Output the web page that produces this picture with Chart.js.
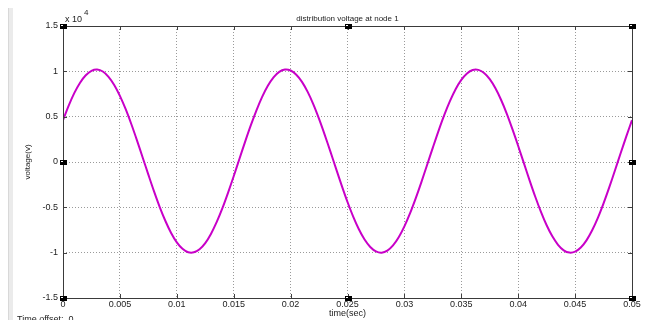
<!DOCTYPE html>
<html>
<head>
<meta charset="utf-8">
<script src="https://cdn.jsdelivr.net/npm/chart.js@4.4.1/dist/chart.umd.min.js"></script>
<style>
  html,body{margin:0;padding:0;background:#fff;width:647px;height:320px;overflow:hidden;}
  #wrap{position:relative;width:647px;height:320px;}
  #strip{position:absolute;left:8px;top:8px;width:4px;height:320px;background:#ebebeb;border-left:1px solid #d8d8d8;}
  #offset{position:absolute;left:17px;top:314px;font:9px "Liberation Sans",Arial,sans-serif;color:#222;white-space:nowrap;}
</style>
</head>
<body>
<div id="wrap">
  <div id="strip"></div>
  <canvas id="c" width="647" height="320"></canvas>
  <div id="offset">Time offset:&nbsp;&nbsp;0</div>
</div>
<script>
// time samples (sec)
const times = [0,0.0005,0.001,0.0015,0.002,0.0025,0.003,0.0035,0.004,0.0045,0.005,0.0055,0.006,0.0065,0.007,0.0075,0.008,0.0085,0.009,0.0095,
0.01,0.0105,0.011,0.0115,0.012,0.0125,0.013,0.0135,0.014,0.0145,0.015,0.0155,0.016,0.0165,0.017,0.0175,0.018,0.0185,0.019,0.0195,
0.02,0.0205,0.021,0.0215,0.022,0.0225,0.023,0.0235,0.024,0.0245,0.025,0.0255,0.026,0.0265,0.027,0.0275,0.028,0.0285,0.029,0.0295,
0.03,0.0305,0.031,0.0315,0.032,0.0325,0.033,0.0335,0.034,0.0345,0.035,0.0355,0.036,0.0365,0.037,0.0375,0.038,0.0385,0.039,0.0395,
0.04,0.0405,0.041,0.0415,0.042,0.0425,0.043,0.0435,0.044,0.0445,0.045,0.0455,0.046,0.0465,0.047,0.0475,0.048,0.0485,0.049,0.0495,0.05];
// voltage at node 1 (V)
const voltage = [4610,6220,7620,8750,9570,10060,10200,9980,9400,8500,7300,5850,4190,2390,500,-1390,-3240,-4970,-6510,-7830,
-8860,-9570,-9950,-9960,-9620,-8940,-7930,-6640,-5120,-3400,-1570,330,2220,4030,5700,7180,8400,9330,9940,10190,
10090,9630,8840,7730,6360,4760,3000,1140,-760,-2630,-4410,-6020,-7420,-8550,-9370,-9860,-10000,-9780,-9200,-8300,
-7100,-5650,-3990,-2190,-300,1590,3440,5170,6710,8030,9060,9770,10150,10160,9820,9140,8130,6840,5320,3600,
1770,-130,-2020,-3830,-5500,-6980,-8200,-9130,-9740,-9990,-9890,-9430,-8640,-7530,-6160,-4560,-2800,-940,960,2830,4610];
const xTickLabels = ['0','0.005','0.01','0.015','0.02','0.025','0.03','0.035','0.04','0.045','0.05'];
const yTickLabels = ['-1.5','-1','-0.5','0','0.5','1','1.5'];
const titleText = 'distribution voltage at node 1';
const xTitle = 'time(sec)';
const yTitle = 'voltage(v)';

const FONT = '"Liberation Sans", Arial, sans-serif';
const points = times.map((t,i)=>({x:t,y:voltage[i]}));

const frame = {
  id:'frame',
  afterDraw(chart){
    const {ctx, chartArea:a, scales:{x,y}} = chart;
    ctx.save();
    ctx.strokeStyle = '#404040'; ctx.lineWidth = 1;
    x.ticks.forEach(t=>{
      const px = Math.round(x.getPixelForValue(t.value))+0.5;
      ctx.beginPath();
      ctx.moveTo(px,a.bottom); ctx.lineTo(px,a.bottom-4);
      ctx.moveTo(px,a.top); ctx.lineTo(px,a.top+4);
      ctx.stroke();
    });
    y.ticks.forEach(t=>{
      const py = Math.round(y.getPixelForValue(t.value))+0.5;
      ctx.beginPath();
      ctx.moveTo(a.left,py); ctx.lineTo(a.left+4,py);
      ctx.moveTo(a.right,py); ctx.lineTo(a.right-4,py);
      ctx.stroke();
    });
    ctx.strokeStyle = '#3a3a3a';
    ctx.strokeRect(Math.round(a.left)+0.5, Math.round(a.top)+0.5, Math.round(a.right-a.left), Math.round(a.bottom-a.top));
    ctx.fillStyle = '#222';
    ctx.font = '9px ' + FONT;
    ctx.textBaseline = 'alphabetic';
    ctx.textAlign = 'left';
    ctx.fillText('x 10', a.left+2, a.top-4);
    ctx.font = '8px ' + FONT;
    ctx.fillText('4', a.left+21, a.top-11);
    ctx.fillStyle = '#000';
    const xm = x.getPixelForValue(0.025), ym = y.getPixelForValue(0);
    [[a.left,a.top],[xm,a.top],[a.right,a.top],[a.left,ym],[a.right,ym],[a.left,a.bottom],[xm,a.bottom],[a.right,a.bottom]]
      .forEach(([hx,hy])=>{
        ctx.fillRect(Math.round(hx)-3, Math.round(hy)-2, 7, 5);
        ctx.fillStyle='#fff'; ctx.fillRect(Math.round(hx)-2, Math.round(hy)-1, 2, 1); ctx.fillStyle='#000';
      });
    ctx.restore();
  }
};

new Chart(document.getElementById('c'), {
  type:'line',
  data:{datasets:[{
    data: points,
    borderColor:'#c800c8',
    borderWidth:2,
    pointRadius:0,
    tension:0.3,
    fill:false
  }]},
  options:{
    responsive:false,
    animation:false,
    events:[],
    layout:{padding:{left:0,right:15,top:0,bottom:0}},
    plugins:{
      legend:{display:false},
      tooltip:{enabled:false},
      title:{display:true,text:titleText,fullSize:false,color:'#222',
        font:{family:FONT,size:8,weight:'normal'},padding:{top:14,bottom:2.4}}
    },
    scales:{
      x:{
        type:'linear',min:0,max:0.05,
        afterFit(s){ s.height = 22; },
        grid:{color:'#9a9a9a',lineWidth:1,drawTicks:false},
        border:{display:false,dash:[1,2]},
        ticks:{stepSize:0.005,padding:1,color:'#222',font:{family:FONT,size:9},maxRotation:0,autoSkip:false,
          callback:(v,i)=>xTickLabels[i]},
        title:{display:true,text:xTitle,color:'#222',font:{family:FONT,size:9},padding:{top:0,bottom:1}}
      },
      y:{
        min:-15000,max:15000,
        afterFit(s){ s.width = 63; },
        grid:{color:'#9a9a9a',lineWidth:1,drawTicks:false},
        border:{display:false,dash:[1,2]},
        ticks:{stepSize:5000,padding:5,color:'#222',font:{family:FONT,size:9},
          callback:(v,i)=>yTickLabels[i]},
        title:{display:true,text:yTitle,color:'#222',font:{family:FONT,size:8},padding:{top:23,bottom:0}}
      }
    }
  },
  plugins:[frame]
});
</script>
</body>
</html>
